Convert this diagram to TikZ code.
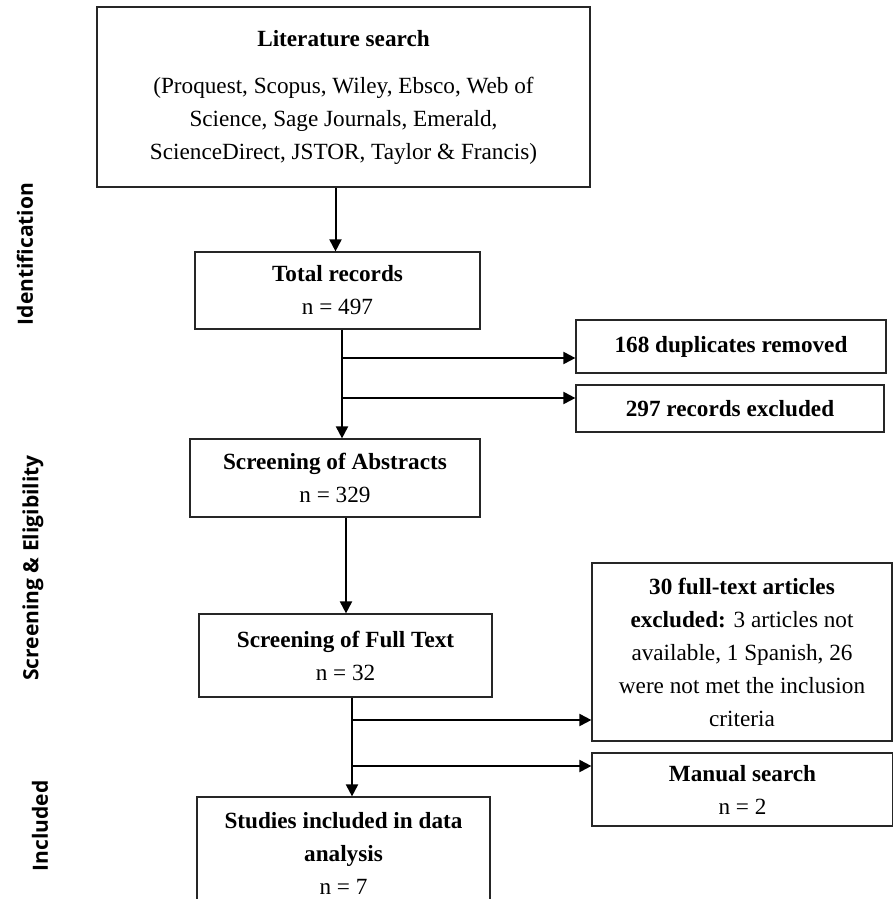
\documentclass[tikz,border=0pt]{standalone}
\usepackage{fontspec}
\setmainfont{Liberation Serif}
\newfontfamily\sidefont{Open Sans}
\usetikzlibrary{arrows.meta,positioning,calc}

\begin{document}
\begin{tikzpicture}[x=0.5pt, y=-0.5pt,
    box/.style={draw=black!85, line width=0.6pt, align=center, inner sep=2pt, font=\fontsize{11.6pt}{16.5pt}\selectfont},
    arr/.style={-{Triangle[length=6pt,width=6pt]}, line width=1pt},
    side/.style={rotate=90, font=\sidefont\bfseries\fontsize{10.5pt}{12pt}\selectfont}
]
\useasboundingbox (0,0) rectangle (893,899);

% stage labels
\node[side] (idlab) at (25,254) {Identification};
\node[side] (sclab) at (33,568) {Screening \& Eligibility};
\node[side] (inlab) at (40,826) {Included};

% main column
\node[box, minimum width=246.5pt, minimum height=90pt] (lit) at (343.5,97) {\textbf{Literature search}\\[7pt](Proquest, Scopus, Wiley, Ebsco, Web of\\Science, Sage Journals, Emerald,\\ScienceDirect, JSTOR, Taylor \& Francis)};
\node[box, minimum width=142.5pt, minimum height=38.5pt] (total) at (337.5,290.5) {\textbf{Total records}\\n = 497};
\node[box, minimum width=145pt, minimum height=39pt] (abs) at (335,478) {\textbf{Screening of Abstracts}\\n = 329};
\node[box, minimum width=146.5pt, minimum height=41.5pt] (full) at (345.5,655.5) {\textbf{Screening of Full Text}\\n = 32};
\node[box, minimum width=146.5pt, minimum height=56.5pt] (incl) at (343.5,853.5) {\textbf{Studies included in data}\\\textbf{analysis}\\n = 7};

% side boxes
\node[box, minimum width=155pt, minimum height=26.5pt] (dup) at (731,346.5) {\textbf{168 duplicates removed}};
\node[box, minimum width=154pt, minimum height=23.5pt] (excl) at (730,408.5) {\textbf{297 records excluded}};
\node[box, minimum width=150pt, minimum height=89pt] (ftex) at (742,652) {\textbf{30 full-text articles}\\\textbf{excluded:} 3 articles not\\available, 1 Spanish, 26\\were not met the inclusion\\criteria};
\node[box, minimum width=150.5pt, minimum height=36.5pt] (man) at (742.5,789.5) {\textbf{Manual search}\\n = 2};

% junctions on the trunks
\coordinate (j1) at (342,358);
\coordinate (j2) at (342,398);
\coordinate (j3) at (352,720);
\coordinate (j4) at (352,766);

\draw[arr] ([xshift=-4pt]lit.south) -- ([xshift=-4pt]lit.south |- total.north);
\draw[arr] (total.south -| j1) -- (abs.north -| j1);
\draw[arr] (j1) -- (j1 -| dup.west);
\draw[arr] (j2) -- (j2 -| excl.west);
\draw[arr] (abs.south -| 346,0) -- (full.north -| 346,0);
\draw[arr] (full.south -| j3) -- (incl.north -| j3);
\draw[arr] (j3) -- (j3 -| ftex.west);
\draw[arr] (j4) -- (j4 -| man.west);
\end{tikzpicture}
\end{document}
